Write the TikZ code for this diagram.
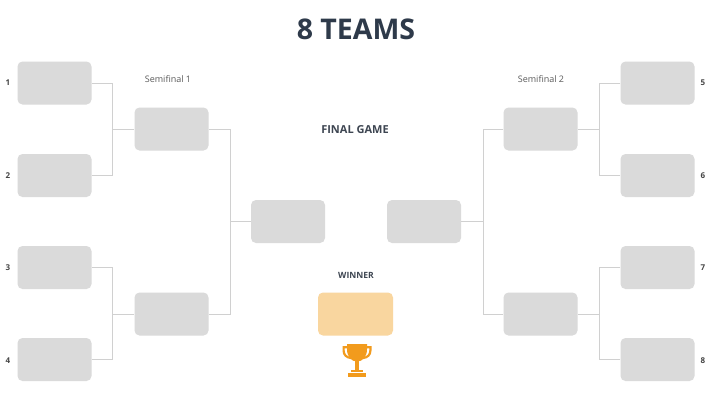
\documentclass[tikz,border=0pt]{standalone}
\usepackage{fontspec}
\setmainfont{Open Sans}
\definecolor{boxgray}{HTML}{DADADA}
\definecolor{linegray}{HTML}{D0D0D0}
\definecolor{titlecol}{HTML}{2E3A4A}
\definecolor{labelcol}{HTML}{3E4652}
\definecolor{semicol}{HTML}{5A5A5A}
\definecolor{numcol}{HTML}{454545}
\definecolor{winfill}{HTML}{F9D69F}
\definecolor{trophycol}{HTML}{F29B1D}
\tikzset{
  teambox/.style={fill=boxgray, draw=none, rounded corners=5pt, minimum width=74pt, minimum height=43pt, inner sep=0pt},
  winbox/.style={teambox, fill=winfill, minimum width=75pt},
  conn/.style={draw=linegray, line width=0.9pt},
  numlab/.style={font=\fontsize{8}{9}\selectfont\bfseries, text=numcol},
  semilab/.style={font=\fontsize{9}{10}\selectfont, text=semicol},
  headlab/.style={font=\fontsize{11}{12}\selectfont\bfseries, text=labelcol},
  winlab/.style={font=\fontsize{8.6}{10}\selectfont\bfseries, text=labelcol},
  titlelab/.style={font=\fontsize{28.5}{30}\selectfont\bfseries, text=titlecol},
}
\begin{document}
\begin{tikzpicture}[x=1pt,y=-1pt]
\useasboundingbox (0,0) rectangle (712,400);
\fill[white] (0,0) rectangle (712,400);

% title and headings
\node[titlelab] (title) at (356,29) {8 TEAMS};
\node[headlab] (final) at (355,130) {FINAL GAME};
\node[winlab] (winlab) at (356,275) {WINNER};
\node[semilab] (s1) at (168,79) {Semifinal 1};
\node[semilab] (s2) at (541,79) {Semifinal 2};

% left round 1
\node[teambox] (L1a) at (54.5,83) {};
\node[teambox] (L1b) at (54.5,175.5) {};
\node[teambox] (L1c) at (54.5,267.5) {};
\node[teambox] (L1d) at (54.5,359.5) {};
% left round 2
\node[teambox] (L2a) at (171.5,129) {};
\node[teambox] (L2b) at (171.5,314) {};
% finals
\node[teambox] (LF) at (288,221.5) {};
\node[teambox] (RF) at (424,221.5) {};
% right round 2
\node[teambox] (R2a) at (540.5,129) {};
\node[teambox] (R2b) at (540.5,314) {};
% right round 1
\node[teambox] (R1a) at (657.5,83) {};
\node[teambox] (R1b) at (657.5,175.5) {};
\node[teambox] (R1c) at (657.5,267.5) {};
\node[teambox] (R1d) at (657.5,359.5) {};
% winner
\node[winbox] (W) at (355.5,314) {};

% numbers
\node[numlab] (n1) at (8,83) {1};
\node[numlab] (n2) at (8,175.5) {2};
\node[numlab] (n3) at (8,268) {3};
\node[numlab] (n4) at (8,360.5) {4};
\node[numlab] (n5) at (703,83) {5};
\node[numlab] (n6) at (703,175.5) {6};
\node[numlab] (n7) at (703,268) {7};
\node[numlab] (n8) at (703,360.5) {8};

% connectors left
\draw[conn] (L1a.east) -- ++(21,0) |- (L2a.west);
\draw[conn] (L1b.east) -- ++(21,0) |- (L2a.west);
\draw[conn] (L1c.east) -- ++(21,0) |- (L2b.west);
\draw[conn] (L1d.east) -- ++(21,0) |- (L2b.west);
\draw[conn] (L2a.east) -- ++(22,0) |- (LF.west);
\draw[conn] (L2b.east) -- ++(22,0) |- (LF.west);
% connectors right
\draw[conn] (R1a.west) -- ++(-21,0) |- (R2a.east);
\draw[conn] (R1b.west) -- ++(-21,0) |- (R2a.east);
\draw[conn] (R1c.west) -- ++(-21,0) |- (R2b.east);
\draw[conn] (R1d.west) -- ++(-21,0) |- (R2b.east);
\draw[conn] (R2a.west) -- ++(-20,0) |- (RF.east);
\draw[conn] (R2b.west) -- ++(-20,0) |- (RF.east);

% trophy
\begin{scope}[trophycol]
\draw[line width=2.2pt] (349,347.3) -- (343.6,347.3) -- (343.6,350.5) .. controls (343.6,355) and (346.5,357.5) .. (351,358);
\draw[line width=2.2pt] (365,347.3) -- (370.4,347.3) -- (370.4,350.5) .. controls (370.4,355) and (367.5,357.5) .. (363,358);
\fill (347,344) -- (367,344) -- (367,349) .. controls (367,357) and (362.5,361.5) .. (357,361.5) .. controls (351.5,361.5) and (347,357) .. (347,349) -- cycle;
\fill (355.4,360) rectangle (358.6,371);
\fill (351,369.5) rectangle (363,372);
\fill (348,373) rectangle (366,377);
\end{scope}
\end{tikzpicture}
\end{document}
